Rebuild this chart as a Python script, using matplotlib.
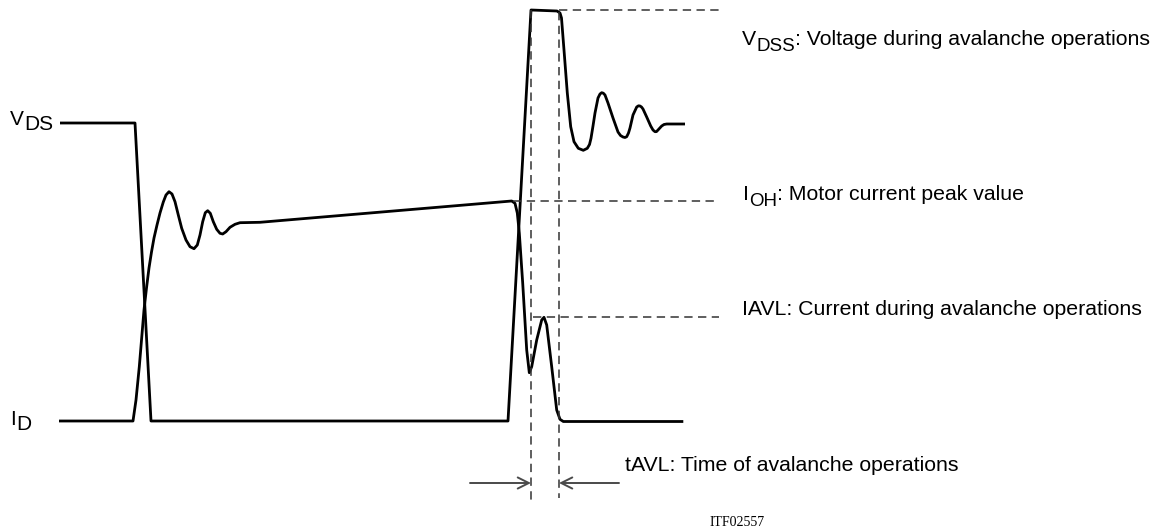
import matplotlib
matplotlib.use('Agg')
import matplotlib.pyplot as plt

plt.rcParams['font.family'] = ['Liberation Sans', 'DejaVu Sans']
plt.rcParams['lines.scale_dashes'] = False

# ---- waveform data (diagram coordinates: x = time, y = level, axis inverted) ----
vds_x = [60, 135, 151, 508, 531, 557, 560, 561.5, 564, 567.3, 570.7, 574, 578.3, 583.3,
         587.3, 589.5, 591, 593, 595, 598, 600, 601.7, 603.3, 605, 608, 613, 618, 620.5,
         623, 625, 626.7, 628.5, 630, 633, 636.7, 638.5, 640, 641.5, 643, 646.7, 650.7,
         653, 655, 656.5, 658, 661.7, 664, 666.7, 685]
vds_y = [123, 123, 421, 421, 10, 11, 13, 18, 50, 93, 126.7, 141.7, 148.3, 150.3,
         148.3, 144.5, 138.3, 126, 113, 98, 94, 92.7, 93.2, 95, 103, 118, 132, 135.5,
         137, 137.5, 136.7, 133, 128, 115, 107, 105.8, 106, 107, 109, 117, 126,
         130, 131.7, 131.6, 130, 126, 124.5, 124, 124]

id_x = [59, 133, 136, 139.3, 144, 146.5, 149, 151.5, 154, 157, 160, 163.3, 166, 169,
        172, 175, 178.3, 181.7, 186, 190, 194, 197.3, 200, 202.7, 205.3, 207.7,
        210.3, 213.3, 216.7, 220, 222.7, 226, 230, 235, 240, 260,
        511.7, 515, 517.3, 519.3, 522.7, 526.7, 529.3, 531.7,
        536.7, 541.7, 544, 546.7, 551.7, 556.7, 560, 563.3, 683.3]
id_y = [421, 421, 400, 366.7, 310, 288, 268, 252, 238, 225, 213, 202, 195, 191.7,
        194, 201.7, 215, 228.3, 240, 246.7, 248.7, 245, 235, 221.7, 212.7, 210.7,
        213.3, 221.7, 229.3, 233.3, 234, 231.7, 227.3, 224.3, 222.7, 222.3,
        201, 203.3, 213, 233, 283, 350, 372.7, 366.7,
        340, 320, 317.3, 325, 366.7, 410, 419.3, 421.5, 421.5]

# reference (dashed) levels
ref_h_y = [10, 201, 317]
ref_h_x0 = [559, 513, 533]
ref_h_x1 = [719, 719, 719]
ref_v_x = [531, 559]
ref_v_y0 = [10, 12]
ref_v_y1 = [503, 498]

# tAVL arrows
arrow_y = 483
arrow_tail_x = [470, 619]
arrow_head_x = [531, 559]

# labels
label_main = 15.3
label_sub = 13.5

fig = plt.figure(figsize=(11.66, 5.29), dpi=100)
ax = fig.add_axes([0, 0, 1, 1])
ax.set_xlim(0, 1166)
ax.set_ylim(529, 0)
ax.axis('off')

line_kw = dict(color='black', lw=2.0, solid_joinstyle='round', solid_capstyle='butt')
ax.plot(vds_x, vds_y, **line_kw)
ax.plot(id_x, id_y, **line_kw)

dash_kw = dict(color='#333333', lw=1.1, linestyle=(0, (6.0, 3.9)))
for y, x0, x1 in zip(ref_h_y, ref_h_x0, ref_h_x1):
    ax.plot([x0, x1], [y, y], **dash_kw)
for x, y0, y1 in zip(ref_v_x, ref_v_y0, ref_v_y1):
    ax.plot([x, x], [y0, y1], **dash_kw)

for tx, hx in zip(arrow_tail_x, arrow_head_x):
    ax.annotate('', xy=(hx, arrow_y), xytext=(tx, arrow_y),
                arrowprops=dict(arrowstyle='->', lw=1.4, color='#4a4a4a',
                                shrinkA=0, shrinkB=0, mutation_scale=20))


def rich(x, y, parts):
    first = None
    prev = None
    for s, size, dy in parts:
        if first is None:
            t = ax.text(x, y, s, fontsize=size, va='baseline', ha='left', color='black')
            first = t
        else:
            t = ax.annotate(s, xy=(1, 0), xycoords=(prev, first), xytext=(0, dy),
                            textcoords='offset points', fontsize=size,
                            va='bottom', ha='left', color='black')
        prev = t


rich(10, 125, [("V", 15, 0), ("DS", 15, -3.6)])
rich(10, 425, [("I", 15, 0), ("D", 15, -3.6)])
rich(742, 45, [("V", label_main, 0), ("DSS", label_sub, -4),
               (": Voltage during avalanche operations", label_main, 0)])
rich(743, 200, [("I", label_main, 0), ("OH", label_sub, -4),
                (": Motor current peak value", label_main, 0)])
rich(742, 315, [("IAVL: Current during avalanche operations", label_main, 0)])
rich(625, 471, [("tAVL: Time of avalanche operations", label_main, 0)])

ax.text(710, 526, "ITF02557", fontsize=10, family=['Liberation Serif', 'DejaVu Serif'],
        va='baseline', ha='left', color='black')

fig.savefig('out.png', dpi=100, facecolor='white')
